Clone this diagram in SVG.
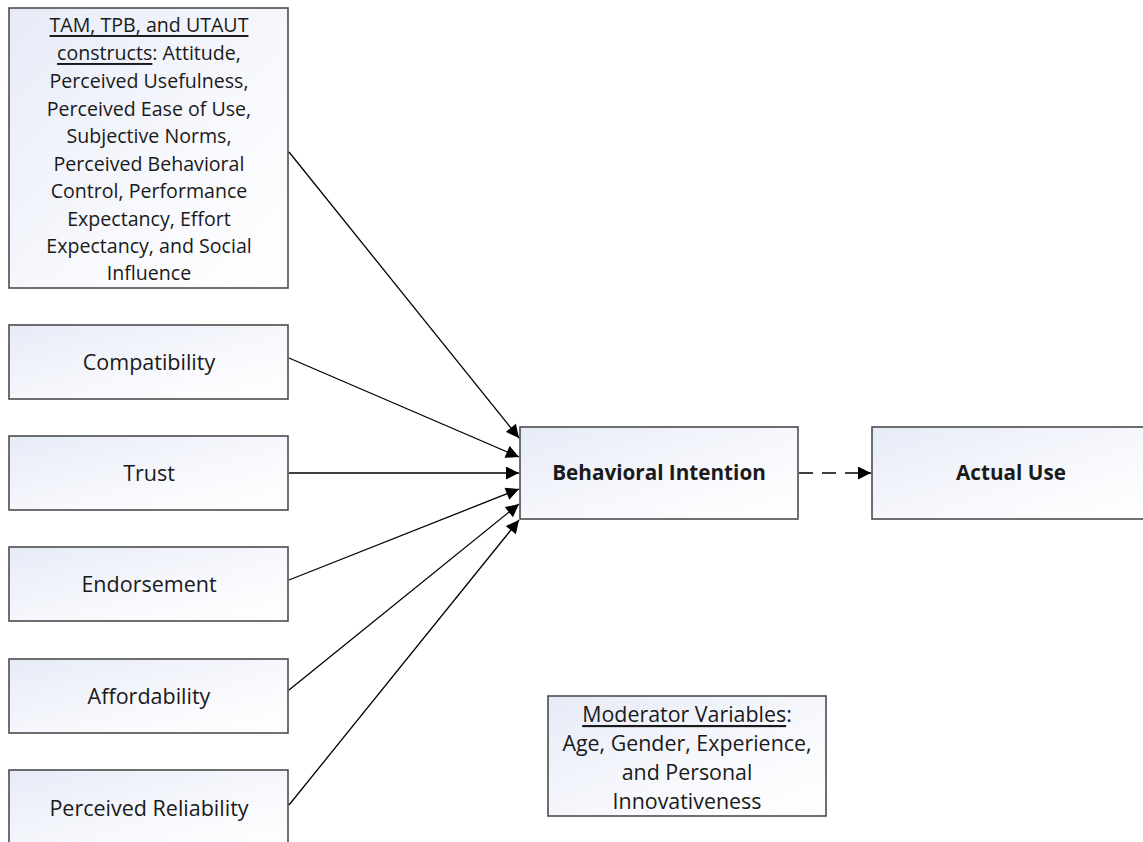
<svg xmlns="http://www.w3.org/2000/svg" width="1143" height="842" viewBox="0 0 1143 842">
  <defs>
    <linearGradient id="boxFill" x1="0" y1="0" x2="1" y2="1">
      <stop offset="0" stop-color="#e6ebf7"/>
      <stop offset="0.6" stop-color="#f8f9fd"/>
      <stop offset="1" stop-color="#ffffff"/>
    </linearGradient>
    <marker id="arrow" viewBox="0 0 10 10" refX="10" refY="5" markerWidth="14" markerHeight="13" markerUnits="userSpaceOnUse" orient="auto">
      <path d="M0,0 L10,5 L0,10 z" fill="#000"/>
    </marker>
  </defs>
  <style>
    .box { fill: url(#boxFill); stroke: #4d4d4d; stroke-width: 1.6; }
    .lbl { font-family: "Open Sans", "Liberation Sans", Arial, sans-serif; font-size: 21.5px; fill: #1a1a1a; text-anchor: middle; dominant-baseline: central; }
    .small { font-size: 19.6px; }
    .mid { font-size: 21.4px; }
    .bold { font-size: 20.7px; font-weight: bold; }
    .edge { stroke: #000; stroke-width: 1.3; fill: none; marker-end: url(#arrow); }
    .dashed { stroke-dasharray: 14 9; }
  </style>
  <rect width="1143" height="842" fill="#ffffff"/>

  <g id="theories">
    <rect class="box" x="9" y="8" width="279" height="280"/>
    <text class="lbl small" x="149" y="24"><tspan text-decoration="underline">TAM, TPB, and UTAUT</tspan></text>
    <text class="lbl small" x="149" y="52"><tspan text-decoration="underline">constructs</tspan>: Attitude,</text>
    <text class="lbl small" x="149" y="80">Perceived Usefulness,</text>
    <text class="lbl small" x="149" y="108">Perceived Ease of Use,</text>
    <text class="lbl small" x="149" y="135">Subjective Norms,</text>
    <text class="lbl small" x="149" y="163">Perceived Behavioral</text>
    <text class="lbl small" x="149" y="190">Control, Performance</text>
    <text class="lbl small" x="149" y="218">Expectancy, Effort</text>
    <text class="lbl small" x="149" y="245">Expectancy, and Social</text>
    <text class="lbl small" x="149" y="272">Influence</text>
  </g>

  <g id="compatibility">
    <rect class="box" x="9" y="325" width="279" height="74"/>
    <text class="lbl" x="149" y="361">Compatibility</text>
  </g>

  <g id="trust">
    <rect class="box" x="9" y="436" width="279" height="74"/>
    <text class="lbl" x="149" y="472">Trust</text>
  </g>

  <g id="endorsement">
    <rect class="box" x="9" y="547" width="279" height="74"/>
    <text class="lbl" x="149" y="583">Endorsement</text>
  </g>

  <g id="affordability">
    <rect class="box" x="9" y="659" width="279" height="74"/>
    <text class="lbl" x="149" y="695">Affordability</text>
  </g>

  <g id="reliability">
    <rect class="box" x="9" y="770" width="279" height="80"/>
    <text class="lbl" x="149" y="807">Perceived Reliability</text>
  </g>

  <g id="intention">
    <rect class="box" x="520" y="427" width="278" height="92"/>
    <text class="lbl bold" x="659" y="472">Behavioral Intention</text>
  </g>

  <g id="actual-use">
    <rect class="box" x="872" y="427" width="278" height="92"/>
    <text class="lbl bold" x="1011" y="472">Actual Use</text>
  </g>

  <g id="moderators">
    <rect class="box" x="548" y="696" width="278" height="120"/>
    <text class="lbl mid" x="687" y="713"><tspan text-decoration="underline">Moderator Variables</tspan>:</text>
    <text class="lbl mid" x="687" y="742">Age, Gender, Experience,</text>
    <text class="lbl mid" x="687" y="771">and Personal</text>
    <text class="lbl mid" x="687" y="800">Innovativeness</text>
  </g>

  <g id="connectors">
    <line class="edge" x1="289" y1="152" x2="519" y2="438"/>
    <line class="edge" x1="289" y1="358" x2="519" y2="457"/>
    <line class="edge" x1="289" y1="473" x2="519" y2="473"/>
    <line class="edge" x1="289" y1="580" x2="519" y2="489"/>
    <line class="edge" x1="289" y1="690" x2="519" y2="504"/>
    <line class="edge" x1="289" y1="805" x2="519" y2="520"/>
    <line class="edge dashed" x1="799" y1="473" x2="871" y2="473"/>
  </g>
</svg>
